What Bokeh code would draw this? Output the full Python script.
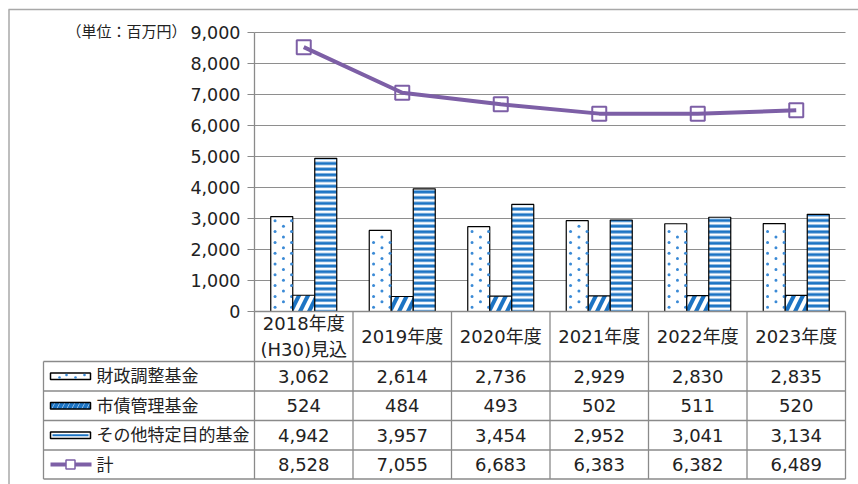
from bokeh.plotting import figure
from bokeh.models import Range1d
from bokeh.core.properties import value
from bokeh.embed import file_html
from bokeh.resources import INLINE

# ---- data ----
categories = ["2018年度\n(H30)見込", "2019年度", "2020年度", "2021年度", "2022年度", "2023年度"]
series_names = ["財政調整基金", "市債管理基金", "その他特定目的基金", "計"]
zaisei = [3062, 2614, 2736, 2929, 2830, 2835]
shisai = [524, 484, 493, 502, 511, 520]
sonota = [4942, 3957, 3454, 2952, 3041, 3134]
total = [8528, 7055, 6683, 6383, 6382, 6489]
yticks = [0, 1000, 2000, 3000, 4000, 5000, 6000, 7000, 8000, 9000]
unit_label = "（単位：百万円）"

# ---- styles ----
FONT = value("'DejaVu Sans', 'Noto Sans CJK JP'")
BLUE = "#1C74C4"
DOTBLUE = "#3A8AD6"
PURPLE = "#7D5FA6"
GRID = "#8E8E8E"
TABLE = "#8A8A8A"
TXT = "#222222"

# layout helpers (picture pixel -> data units)
PX = 98.5     # px per category
PY = 0.031    # px per value unit
def xpx(px):
    return -0.5 + (px - 254) / PX
def ypx(py):
    return (311 - py) / PY

W, H = 858, 484
p = figure(width=W, height=H, output_backend="svg", toolbar_location=None,
           x_range=Range1d(xpx(0), xpx(W)), y_range=Range1d(ypx(H), ypx(0)),
           x_axis_type=None, y_axis_type=None, min_border=0)
p.grid.visible = False
p.outline_line_color = None
p.background_fill_color = "white"
p.border_fill_color = "white"

n = len(categories)
idx = list(range(n))
BW = 22 / PX

# outer frame
p.segment(x0=[xpx(8), xpx(8.5)], y0=[ypx(9), ypx(9)], x1=[xpx(858), xpx(8.5)], y1=[ypx(9), ypx(484)],
          line_color="#A8A8A8", line_width=1.5)

# gridlines
p.segment(x0=[-0.5] * (len(yticks) - 1), x1=[n - 0.5] * (len(yticks) - 1),
          y0=yticks[1:], y1=yticks[1:], line_color=GRID, line_width=1.2)

# bars
p.vbar(x=[i - BW for i in idx], top=zaisei, width=BW, fill_color="white", line_color="black",
       line_width=1.2)
# dotted fill pattern of the first series (staggered small dots)
dot_x, dot_y = [], []
col_off = [4.3, 12.7, 20.8]
for i, v in enumerate(zaisei):
    left = i - 1.5 * BW
    for c, off in enumerate(col_off):
        yy = (4.3 if c != 1 else 9.7) / PY
        while yy < v - 3 / PY:
            dot_x.append(left + off / PX)
            dot_y.append(yy)
            yy += 10.8 / PY
p.scatter(dot_x, dot_y, marker="circle", size=3, fill_color=DOTBLUE, line_color=None)

p.vbar(x=idx, top=shisai, width=BW, fill_color="white", line_color="black", line_width=1.2,
       hatch_pattern="right_diagonal_line", hatch_color=BLUE, hatch_scale=18, hatch_weight=4)
p.vbar(x=[i + BW for i in idx], top=sonota, width=BW, fill_color="white", line_color="black",
       line_width=1.2, hatch_pattern="horizontal_line", hatch_color=BLUE, hatch_scale=5.7,
       hatch_weight=3)

# total line
p.line(idx, total, line_color=PURPLE, line_width=4)
p.scatter(idx, total, marker="square", size=14, fill_color=None, line_color=PURPLE, line_width=2)

# y axis line, ticks, labels
p.segment(x0=[-0.5], x1=[-0.5], y0=[yticks[-1]], y1=[0], line_color=TABLE, line_width=1.3)
p.segment(x0=[xpx(247)] * len(yticks), x1=[-0.5] * len(yticks), y0=yticks, y1=yticks,
          line_color=TABLE, line_width=1.2)
p.text(x=[xpx(240)] * len(yticks), y=yticks, text=[f"{t:,}" for t in yticks],
       text_font=FONT, text_font_size="17.5px", text_align="right", text_baseline="middle",
       text_color=TXT)
p.text(x=[xpx(66)], y=[ypx(31)], text=[unit_label], text_font=FONT, text_font_size="15px",
       text_align="left", text_baseline="middle", text_color=TXT)

# ---- data table ----
TBL_LEFT = xpx(43)
header_bottom = ypx(361)
row_bounds = [ypx(361), ypx(390.5), ypx(420), ypx(449.5), ypx(478.5)]
table_bottom = row_bounds[-1]

# horizontal lines
p.segment(x0=[-0.5], x1=[n - 0.5], y0=[0], y1=[0], line_color=TABLE, line_width=1.3)
p.segment(x0=[TBL_LEFT] * len(row_bounds), x1=[n - 0.5] * len(row_bounds),
          y0=row_bounds, y1=row_bounds, line_color=TABLE, line_width=1.3)
# vertical lines
p.segment(x0=[k - 0.5 for k in range(n + 1)], x1=[k - 0.5 for k in range(n + 1)],
          y0=[0] * (n + 1), y1=[table_bottom] * (n + 1), line_color=TABLE, line_width=1.3)
p.segment(x0=[TBL_LEFT], x1=[TBL_LEFT], y0=[header_bottom], y1=[table_bottom],
          line_color=TABLE, line_width=1.3)

# header labels
for i, c in enumerate(categories):
    lines = c.split("\n")
    if len(lines) == 1:
        p.text(x=[i], y=[ypx(336)], text=lines, text_font=FONT, text_font_size="18px",
               text_align="center", text_baseline="middle", text_color=TXT)
    else:
        p.text(x=[i, i], y=[ypx(323), ypx(349)], text=lines, text_font=FONT,
               text_font_size="18px", text_align="center", text_baseline="middle",
               text_color=TXT)

row_centers = [(row_bounds[k] + row_bounds[k + 1]) / 2 for k in range(4)]
series_vals = [zaisei, shisai, sonota, total]
for k, vals in enumerate(series_vals):
    p.text(x=idx, y=[row_centers[k]] * n, text=[f"{v:,}" for v in vals], text_font=FONT,
           text_font_size="18px", text_align="center", text_baseline="middle",
           text_color=TXT)
    p.text(x=[xpx(96)], y=[row_centers[k]], text=[series_names[k]], text_font=FONT,
           text_font_size="17px", text_align="left", text_baseline="middle",
           text_color=TXT)

# legend keys in table
sw_l, sw_r = xpx(50), xpx(90)
sw_x = (sw_l + sw_r) / 2
sw_w = sw_r - sw_l
sw_h = 6.5 / PY
p.rect(x=[sw_x], y=[row_centers[0]], width=sw_w, height=sw_h, fill_color="white",
       line_color="black", line_width=1.5)
p.scatter([xpx(59), xpx(66), xpx(75), xpx(84)],
          [row_centers[0] - 1.3 / PY, row_centers[0] + 1.3 / PY,
           row_centers[0] - 1.3 / PY, row_centers[0] + 1.3 / PY],
          marker="circle", size=2.6, fill_color=DOTBLUE, line_color=None)
p.rect(x=[sw_x], y=[row_centers[1]], width=sw_w, height=sw_h, fill_color="white",
       line_color="black", line_width=1.5, hatch_pattern="right_diagonal_line",
       hatch_color=BLUE, hatch_scale=10, hatch_weight=4)
p.rect(x=[sw_x], y=[row_centers[2]], width=sw_w, height=sw_h, fill_color="white",
       line_color="black", line_width=1.5)
p.segment(x0=[xpx(52)], x1=[xpx(88)], y0=[row_centers[2]], y1=[row_centers[2]],
          line_color=BLUE, line_width=2.2)
p.line([xpx(50), xpx(91)], [row_centers[3]] * 2, line_color=PURPLE, line_width=4)
p.scatter([sw_x], [row_centers[3]], marker="square", size=9, fill_color="white",
          line_color=PURPLE, line_width=1.5)

open("out.html", "w").write(file_html(p, INLINE))
